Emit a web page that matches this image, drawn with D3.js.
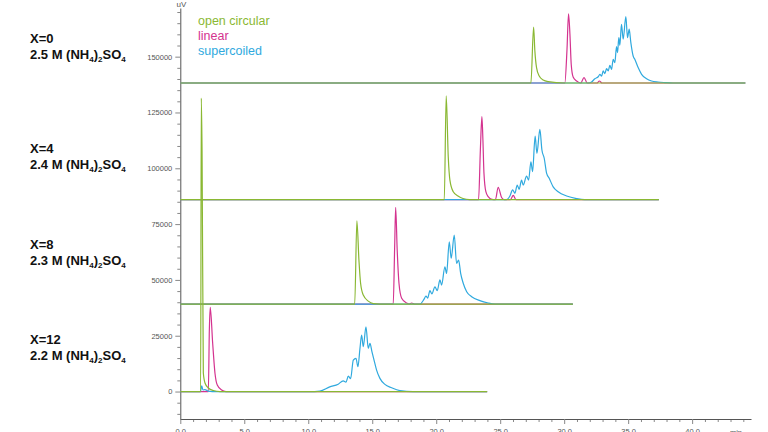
<!DOCTYPE html>
<html>
<head>
<meta charset="utf-8">
<script src="https://cdn.jsdelivr.net/npm/d3@7"></script>
<style>
body { margin: 0; background: #fff; }
svg { display: block; }
</style>
</head>
<body>
<svg width="768" height="432"></svg>
<script>
// rows, top to bottom
var rowNames = ["X=0", "X=4", "X=8", "X=12"];
var saltConc = ["2.5", "2.4", "2.3", "2.2"];
var baselines = [138200, 86000, 39200, 0];     // uV offset of each trace
var runEnd = [44.16, 37.40, 30.68, 23.98];     // min, where each trace stops

var seriesNames = ["open circular", "linear", "supercoiled"];

var xMajorTicks = [0, 5, 10, 15, 20, 25, 30, 35, 40];
var yMajorTicks = [0, 25000, 50000, 75000, 100000, 125000, 150000];

// [min, uV above the trace baseline]
var openCircular = [
  [[0,0],[27.40,0],[27.61,25100],[27.71,14300],[27.84,6900],[28.05,3100],[28.36,1300],[28.75,600],[30.0,0],[44.16,0]],
  [[0,0],[20.63,0],[20.78,46400],[20.94,19200],[21.07,8700],[21.33,3500],[21.70,1600],[22.09,450],[22.6,0],[37.40,0]],
  [[0,0],[13.63,0],[13.80,37300],[13.96,19700],[14.09,9300],[14.30,4000],[14.69,1300],[15.08,200],[15.6,0],[30.68,0]],
  [[0,0],[1.59,0],[1.64,131400],[1.70,108000],[1.80,8300],[1.93,3800],[2.19,1600],[2.58,450],[3.1,0],[23.98,0]]
];

var linear = [
  [[0,0],[30.05,0],[30.22,15000],[30.34,31000],[30.45,21800],[30.55,8400],[30.70,2700],[30.97,900],[31.3,0],[31.55,2400],[31.8,0],[32.56,0],[32.75,900],[32.95,0],[44.16,0]],
  [[0,0],[23.31,0],[23.45,22200],[23.57,37100],[23.65,26600],[23.73,11900],[23.88,3500],[24.06,1300],[24.35,100],[24.63,0],[24.84,5500],[25.11,900],[25.29,0],[25.80,0],[26.02,1900],[26.23,0],[37.40,0]],
  [[0,0],[16.64,0],[16.75,25000],[16.83,43300],[16.95,24200],[17.09,9300],[17.30,2600],[17.69,450],[17.9,0],[18.08,450],[18.3,0],[30.68,0]],
  [[0,0],[2.19,0],[2.27,27600],[2.34,37700],[2.53,21600],[2.71,8200],[2.89,2900],[3.23,700],[3.57,0],[23.98,0]]
];

var supercoiled = [
  [[0,0],[31.9,0],[32.14,450],[32.40,1900],[32.66,2800],[32.79,3900],[32.92,3100],[33.05,5400],[33.18,4200],[33.31,6400],[33.44,5400],
   [33.57,7900],[33.70,6100],[33.83,10600],[33.96,9100],[34.09,16300],[34.17,13600],[34.27,20300],[34.35,16900],[34.48,26300],
   [34.61,19600],[34.82,29700],[34.95,20300],[35.08,24100],[35.21,18100],[35.39,12100],[35.52,10600],[35.78,6900],[36.05,3900],
   [36.44,1900],[36.83,900],[37.34,450],[37.87,200],[38.5,0],[44.16,0]],
  [[0,0],[25.50,0],[25.76,1600],[25.97,4300],[26.15,2800],[26.33,6500],[26.48,4600],[26.67,8700],[26.80,6500],[27.06,10500],
   [27.22,8700],[27.40,16900],[27.53,12500],[27.73,28400],[27.87,20700],[28.10,31400],[28.26,22200],[28.44,18500],[28.63,11700],
   [28.83,9500],[29.14,5700],[29.53,3500],[30.19,1600],[30.97,450],[31.6,0],[37.40,0]],
  [[0,0],[18.73,0],[19.04,2100],[19.20,3600],[19.33,2600],[19.51,6000],[19.66,4500],[19.90,7700],[20.08,6000],[20.29,10800],
   [20.42,8500],[20.68,16700],[20.81,13700],[21.02,27900],[21.17,20500],[21.41,30900],[21.59,18200],[21.75,19700],[21.91,13700],
   [22.11,9300],[22.38,5500],[22.77,3300],[23.41,1500],[24.06,450],[24.6,0],[30.68,0]],
  [[0,0],[1.58,0],[1.67,2500],[1.77,700],[1.93,900],[2.16,200],[2.5,0],[10.5,0],[10.91,200],[11.68,2100],[12.34,3300],[12.73,4800],
   [12.95,4200],[13.13,6900],[13.31,5800],[13.52,14100],[13.73,14900],[13.88,11100],[14.04,19300],[14.17,25300],[14.30,20100],
   [14.51,29000],[14.69,19300],[14.82,21600],[14.98,17800],[15.14,14100],[15.34,9600],[15.60,5900],[15.99,3200],[16.52,1700],
   [17.16,450],[18.18,0],[23.98,0]]
];

var svg = d3.select("svg");
var font = "'Liberation Sans', Arial, sans-serif";
var colors = ["#8ab833", "#d4338f", "#2fa9de"];

var xScale = d3.scaleLinear().domain([0, 44.6]).range([180.3, 751]);
var yScale = d3.scaleLinear().domain([-12300, 171800]).range([419, 8]);

// minor ticks first, majors on top
var xMinor = d3.range(0, 45, 1).filter(function(d) { return d % 5 != 0; });
var yMinor = d3.range(-10000, 170001, 5000).filter(function(d) { return d % 25000 != 0; });

var xMinorAxis = d3.axisBottom(xScale).tickValues(xMinor).tickSize(3).tickFormat("");
var yMinorAxis = d3.axisLeft(yScale).tickValues(yMinor).tickSize(3).tickFormat("");

var xAxis = d3.axisBottom(xScale)
              .tickValues(xMajorTicks)
              .tickFormat(d3.format(".1f"))
              .tickSize(5).tickSizeOuter(0).tickPadding(5);
var yAxis = d3.axisLeft(yScale)
              .tickValues(yMajorTicks)
              .tickFormat(d3.format("d"))
              .tickSize(5).tickSizeOuter(0).tickPadding(3);

function styleAxis(g) {
  g.select(".domain").attr("stroke", "#555");
  g.selectAll(".tick line").attr("stroke", "#888");
  g.selectAll(".tick text").attr("fill", "#555")
    .style("font-family", font).style("font-size", "7.5px");
}

svg.append("g").attr("transform", "translate(0,419)").call(xMinorAxis).call(styleAxis)
   .select(".domain").remove();
svg.append("g").attr("transform", "translate(180.3,0)").call(yMinorAxis).call(styleAxis)
   .select(".domain").remove();
svg.append("g").attr("transform", "translate(0,419)").call(xAxis).call(styleAxis);
svg.append("g").attr("transform", "translate(180.3,0)").call(yAxis).call(styleAxis);

svg.append("text")
   .attr("x", 181.5).attr("y", 7)
   .attr("text-anchor", "middle")
   .style("font-family", font).style("font-size", "8px")
   .attr("fill", "#555")
   .text("uV");

svg.append("text")
   .attr("x", 736).attr("y", 435)
   .attr("text-anchor", "middle")
   .style("font-family", font).style("font-size", "7.5px")
   .attr("fill", "#555")
   .text("min");

// traces: linear, then supercoiled, open circular on top (baselines read green)
var allSeries = [openCircular, linear, supercoiled];
var drawOrder = [1, 2, 0];

baselines.forEach(function(base, r) {
  var line = d3.line()
    .x(function(d) { return xScale(d[0]); })
    .y(function(d) { return yScale(base + d[1]); })
    .curve(d3.curveMonotoneX);

  drawOrder.forEach(function(s) {
    svg.append("path")
       .datum(allSeries[s][r])
       .attr("d", line)
       .attr("fill", "none")
       .attr("stroke", colors[s])
       .attr("stroke-width", 1.2)
       .attr("stroke-linejoin", "round");
  });
});

// legend
svg.append("g").selectAll("text")
   .data(seriesNames)
   .enter()
   .append("text")
   .attr("x", 198)
   .attr("y", function(d, i) { return 24.5 + i * 15; })
   .style("font-family", font)
   .style("font-size", "12.5px")
   .attr("fill", function(d, i) { return colors[i]; })
   .text(function(d) { return d; });

// row labels
var labelTop = [43, 153, 249, 344];

rowNames.forEach(function(name, i) {
  svg.append("text")
     .attr("x", 30).attr("y", labelTop[i])
     .style("font-family", font).style("font-size", "13px").style("font-weight", "bold")
     .attr("fill", "#111")
     .text(name);

  var t = svg.append("text")
     .attr("x", 30).attr("y", labelTop[i] + 16)
     .style("font-family", font).style("font-size", "13px").style("font-weight", "bold")
     .attr("fill", "#111");
  t.append("tspan").text(saltConc[i] + " M (NH");
  t.append("tspan").attr("dy", 3).style("font-size", "8px").text("4");
  t.append("tspan").attr("dy", -3).text(")");
  t.append("tspan").attr("dy", 3).style("font-size", "8px").text("2");
  t.append("tspan").attr("dy", -3).text("SO");
  t.append("tspan").attr("dy", 3).style("font-size", "8px").text("4");
});
</script>
</body>
</html>
